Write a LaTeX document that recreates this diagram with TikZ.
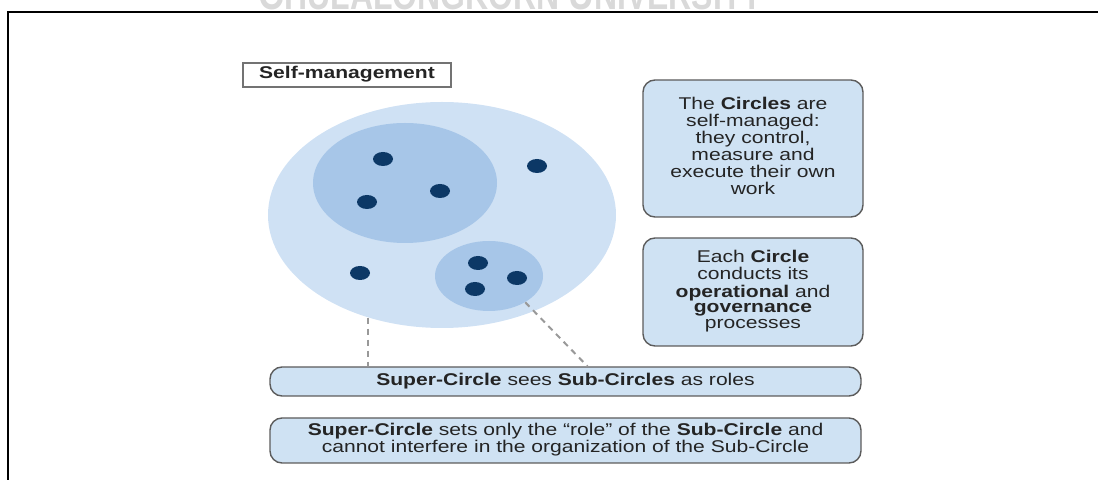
\documentclass[tikz,border=0pt]{standalone}
\usepackage{fontspec}
\setmainfont{Liberation Sans}
\usetikzlibrary{shapes.geometric}
\definecolor{boxblue}{HTML}{CFE2F3}
\definecolor{circlight}{HTML}{CFE1F4}
\definecolor{circmid}{HTML}{A7C6E8}
\definecolor{dotblue}{HTML}{0C3866}
\definecolor{textgray}{HTML}{242424}
\definecolor{linegray}{HTML}{5C5C5C}
% wide text (the picture is stretched sideways)
\newcommand{\wtext}[1]{\scalebox{1.24}[1]{\fontsize{8.5}{7.9}\selectfont\begin{tabular}{@{}c@{}}#1\end{tabular}}}
\begin{document}
\begin{tikzpicture}[x=0.5pt, y=-0.5pt,
    textbox/.style={draw=linegray, line width=0.7pt, fill=boxblue, rounded corners=6pt,
      text=textgray, inner sep=0pt},
    circ/.style={ellipse, inner sep=0pt},
    member/.style={ellipse, fill=dotblue, minimum width=10, minimum height=7, inner sep=0pt},
    linkdash/.style={draw=black!40, line width=1pt, dash pattern=on 3pt off 2.5pt}]
  \useasboundingbox (0,0) rectangle (1098,480);
  % frame and watermark
  \draw[line width=1pt] (8,480) -- (8,12) -- (1098,12);
  \node[anchor=base, text=black!15, inner sep=0pt] (wmark) at (511,10)
    {\resizebox{252pt}{16pt}{\bfseries C\small HULALONGKORN \normalsize U\small NIVERSITY}};
  % title
  \node[draw=black!55, line width=0.6pt, fill=white, minimum width=104, minimum height=12,
    inner sep=0pt, text=textgray] (title) at (347,75) {\wtext{\textbf{Self-management}}};
  % super-circle and sub-circles
  \node[circ, fill=circlight, minimum width=174, minimum height=113] (super) at (442,215) {};
  \node[circ, fill=circmid, minimum width=92, minimum height=60] (subA) at (405,183) {};
  \node[circ, fill=circmid, minimum width=54, minimum height=35] (subB) at (489,276) {};
  \foreach \p [count=\i] in {(383,159),(440,191),(367,202),(537,166),(360,273),(478,263),(517,278),(475,289)}
    \node[member] (m\i) at \p {};
  % notes on the right
  \node[textbox, minimum width=110, minimum height=68.5] (selfman) at (753,148.5)
    {\wtext{The \textbf{Circles} are\\self-managed:\\they control,\\measure and\\execute their own\\work}};
  \node[textbox, minimum width=110, minimum height=54] (process) at (753,292)
    {\wtext{Each \textbf{Circle}\\conducts its\\\textbf{operational} and\\\textbf{governance}\\processes}};
  % notes below
  \node[textbox, minimum width=295.5, minimum height=14.5] (roles) at (565.5,381.5)
    {\wtext{\textbf{Super-Circle} sees \textbf{Sub-Circles} as roles}};
  \node[textbox, minimum width=295.5, minimum height=22.5] (setrole) at (565.5,440.5)
    {\wtext{\textbf{Super-Circle} sets only the ``role'' of the \textbf{Sub-Circle} and\\cannot interfere in the organization of the Sub-Circle}};
  % dashed links
  \draw[linkdash] (super.234) -- (super.234 |- roles.north);
  \draw[linkdash] (subB.-36) -- ([xshift=11pt]roles.north);
\end{tikzpicture}
\end{document}
